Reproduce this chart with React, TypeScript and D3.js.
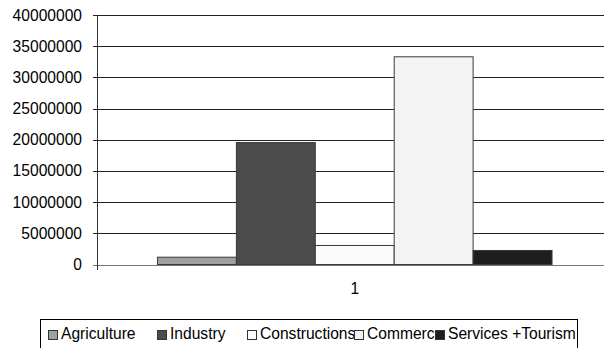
import React from "react";
import * as d3 from "d3";

const categories = ["1"];
const seriesNames = ["Agriculture", "Industry", "Constructions", "Commerce", "Services +Tourism"];
const seriesValues = [1170000, 19550000, 3050000, 33300000, 2250000];
const seriesColors = ["#a0a0a0", "#4c4c4c", "#fbfbfb", "#f3f3f3", "#1e1e1e"];
const yTicks = [0, 5000000, 10000000, 15000000, 20000000, 25000000, 30000000, 35000000, 40000000];
const legendLabels = ["Agriculture", "Industry", "Constructions", "Commerc", "Services +Tourism"];
const legendX = [48, 157, 247, 354, 435];

const W = 604;
const H = 348;
const FONT = "'Liberation Sans', Arial, sans-serif";
const FS = 15.6;

export default function App() {
  const left = 97.5;
  const right = 612;
  const top = 15;
  const bottom = 264.5;

  const y = d3.scaleLinear().domain([0, 40000000]).range([bottom, top]);
  const x0 = d3.scaleBand().domain(categories).range([left, right]).paddingInner(0).paddingOuter(0.152);
  const x1 = d3.scaleBand().domain(seriesNames).range([0, x0.bandwidth()]).padding(0);

  return (
    <svg width={W} height={H} style={{ position: "absolute", left: 0, top: 0, background: "#fff" }}>
      {/* gridlines */}
      {yTicks.map((t) => (
        <line key={"g" + t} x1={left - 5} x2={W} y1={Math.round(y(t)) + 0.5} y2={Math.round(y(t)) + 0.5}
          stroke={t === 0 ? "#777" : "#222"} strokeWidth={1} shapeRendering="crispEdges" />
      ))}
      {/* y tick labels */}
      {yTicks.map((t) => (
        <text key={"l" + t} x={82} y={y(t) + 5.5} textAnchor="end" fontFamily={FONT} fontSize={FS} fill="#000">
          {String(t)}
        </text>
      ))}
      {/* y axis */}
      <line x1={left} x2={left} y1={top} y2={bottom + 5} stroke="#333" strokeWidth={1} shapeRendering="crispEdges" />
      {/* bars */}
      {categories.map((c) => (
        <g key={c} transform={`translate(${x0(c)},0)`}>
          {seriesNames.map((s, i) => (
            <rect key={s} x={x1(s)} y={y(seriesValues[i])} width={x1.bandwidth()}
              height={bottom - y(seriesValues[i])} fill={seriesColors[i]} stroke="#3a3a3a" strokeWidth={1} />
          ))}
          <text x={x0.bandwidth() / 2} y={294} textAnchor="middle" fontFamily={FONT} fontSize={FS} fill="#000">{c}</text>
        </g>
      ))}
      {/* legend */}
      <rect x={40.5} y={319.5} width={537} height={60} fill="#fff" stroke="#000" strokeWidth={1} />
      {legendLabels.map((lab, i) => (
        <g key={lab}>
          <rect x={legendX[i] + 0.5} y={330.5} width={9} height={9} fill={seriesColors[i]} stroke="#333" strokeWidth={1} />
          <text x={legendX[i] + 13} y={338.5} fontFamily={FONT} fontSize={FS} fill="#000">{lab}</text>
        </g>
      ))}
      <text x={370} y={359} fontFamily={FONT} fontSize={FS} fill="#000">e</text>
    </svg>
  );
}
